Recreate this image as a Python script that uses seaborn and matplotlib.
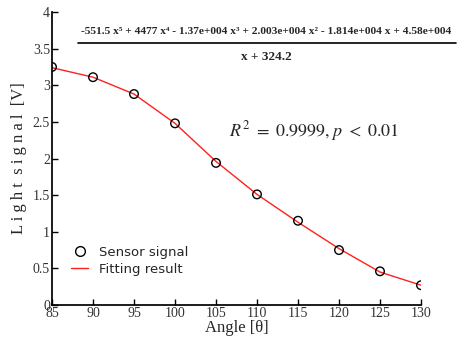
import matplotlib
matplotlib.use("Agg")
import matplotlib.pyplot as plt
import seaborn as sns
import pandas as pd
from matplotlib.lines import Line2D

angles = [85, 90, 95, 100, 105, 110, 115, 120, 125, 130]
sensor_signal = [3.25, 3.11, 2.88, 2.48, 1.94, 1.51, 1.15, 0.75, 0.46, 0.27]
fitting_result = [3.24, 3.11, 2.88, 2.48, 1.96, 1.51, 1.13, 0.77, 0.45, 0.27]
x_ticks = [85, 90, 95, 100, 105, 110, 115, 120, 125, 130]
y_ticks = [0, 0.5, 1, 1.5, 2, 2.5, 3, 3.5, 4]
y_tick_labels = ["0", "0.5", "1", "1.5", "2", "2.5", "3", "3.5", "4"]

df = pd.DataFrame({"angle": angles, "sensor": sensor_signal, "fit": fitting_result})

sns.set_theme(style="ticks")
plt.rcParams["font.family"] = ["Liberation Serif", "DejaVu Serif"]
plt.rcParams["mathtext.fontset"] = "stix"

fig = plt.figure(figsize=(4.58, 3.42), dpi=100)
ax = fig.add_axes([52 / 458, 1 - 305 / 342, (421 - 52) / 458, (305 - 12) / 342])

sns.lineplot(data=df, x="angle", y="fit", color="#ff2020", linewidth=1.0, ax=ax)
sns.scatterplot(data=df, x="angle", y="sensor", marker="o", s=38,
                facecolor="none", edgecolor="black", linewidth=1.0, ax=ax, zorder=3)

ax.set_xlim(85, 130)
ax.set_ylim(0, 4)
ax.set_xticks(x_ticks)
ax.set_xticklabels([str(t) for t in x_ticks])
ax.set_yticks(y_ticks)
ax.set_yticklabels(y_tick_labels)
ax.tick_params(direction="in", length=4, width=1, labelsize=10, pad=1.5, colors="black")
for lab in ax.get_xticklabels() + ax.get_yticklabels():
    lab.set_color("#333333")
sns.despine(ax=ax)
ax.spines["left"].set_color("black")
ax.spines["bottom"].set_color("black")

ax.set_xlabel("Angle [θ]", fontsize=12, labelpad=0)
ax.set_ylabel("L i g h t  s i g n a l  [V]", fontsize=12, labelpad=4)

handles = [
    Line2D([], [], marker="o", linestyle="none", markerfacecolor="none",
           markeredgecolor="black", markersize=7),
    Line2D([], [], color="#ff2020", linewidth=1.0),
]
ax.legend(handles, ["Sensor signal", "Fitting result"], loc="lower left",
          bbox_to_anchor=(0.02, 0.06), frameon=False,
          prop={"family": "DejaVu Sans", "size": 9.5}, handlelength=1.3,
          labelspacing=0.3)

num = "-551.5 x⁵ + 4477 x⁴ - 1.37e+004 x³ + 2.003e+004 x² - 1.814e+004 x + 4.58e+004"
fig.text(266 / 458, 1 - 31 / 342, num, ha="center", va="center", fontsize=8.2,
         fontweight="bold", family=["Liberation Serif", "DejaVu Serif"])
fig.text(266 / 458, 1 - 57 / 342, "x + 324.2", ha="center", va="center",
         fontsize=9.5, fontweight="bold")
fig.add_artist(Line2D([78 / 458, 456 / 458], [1 - 43 / 342, 1 - 43 / 342],
                      color="black", linewidth=1.2))

fig.text(314 / 458, 1 - 131 / 342, r"$R^2\ =\ 0.9999, p\ <\ 0.01$", ha="center",
         va="center", fontsize=13)

fig.savefig("out.png", dpi=100)
